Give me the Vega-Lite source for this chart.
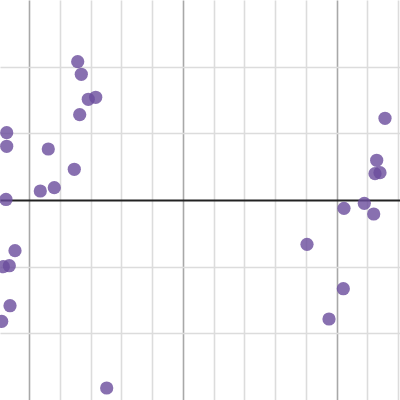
{
  "$schema": "https://vega.github.io/schema/vega-lite/v6.json",
  "width": 400,
  "height": 400,
  "autosize": {"type": "fit", "contains": "padding"},
  "padding": 0,
  "background": "white",
  "config": {"view": {"stroke": null}},
  "data": {"values": [
    {"x": 6.583, "y": 2.075},
    {"x": 6.700, "y": 1.886},
    {"x": 6.927, "y": 1.511},
    {"x": 7.168, "y": 1.541},
    {"x": 6.648, "y": 1.280},
    {"x": 4.275, "y": 1.010},
    {"x": 4.275, "y": 0.806},
    {"x": 5.627, "y": 0.765},
    {"x": 6.472, "y": 0.461},
    {"x": 5.367, "y": 0.135},
    {"x": 5.822, "y": 0.185},
    {"x": 4.252, "y": 0.008},
    {"x": 4.545, "y": -0.760},
    {"x": 4.360, "y": -0.986},
    {"x": 4.165, "y": -1.000},
    {"x": 4.383, "y": -1.586},
    {"x": 4.113, "y": -1.820},
    {"x": 7.525, "y": -2.820},
    {"x": 16.570, "y": 1.226},
    {"x": 16.300, "y": 0.596},
    {"x": 16.245, "y": 0.395},
    {"x": 16.407, "y": 0.410},
    {"x": 15.897, "y": -0.050},
    {"x": 15.237, "y": -0.125},
    {"x": 16.203, "y": -0.210},
    {"x": 14.035, "y": -0.665},
    {"x": 15.215, "y": -1.331},
    {"x": 14.750, "y": -1.785}
  ]},
  "mark": {"type": "circle", "size": 175, "color": "#6a4c9c", "opacity": 0.8, "clip": true},
  "encoding": {
    "x": {
      "field": "x", "type": "quantitative",
      "scale": {"domain": [4.0575, 17.0575], "nice": false, "zero": false},
      "axis": {
        "values": [5, 6, 7, 8, 9, 10, 11, 12, 13, 14, 15, 16, 17],
        "labels": false, "ticks": false, "domain": false, "title": null,
        "grid": true, "gridWidth": 1.6,
        "gridColor": {"condition": {"test": "datum.value % 5 === 0", "value": "#a8a8a8"}, "value": "#dcdcdc"}
      }
    },
    "y": {
      "field": "y", "type": "quantitative",
      "scale": {"domain": [-3, 3], "nice": false, "zero": false},
      "axis": {
        "values": [-2, -1, 0, 1, 2],
        "labels": false, "ticks": false, "domain": false, "title": null,
        "grid": true,
        "gridWidth": {"condition": {"test": "datum.value === 0", "value": 2}, "value": 1.6},
        "gridColor": {"condition": {"test": "datum.value === 0", "value": "#222222"}, "value": "#dcdcdc"}
      }
    }
  }
}
